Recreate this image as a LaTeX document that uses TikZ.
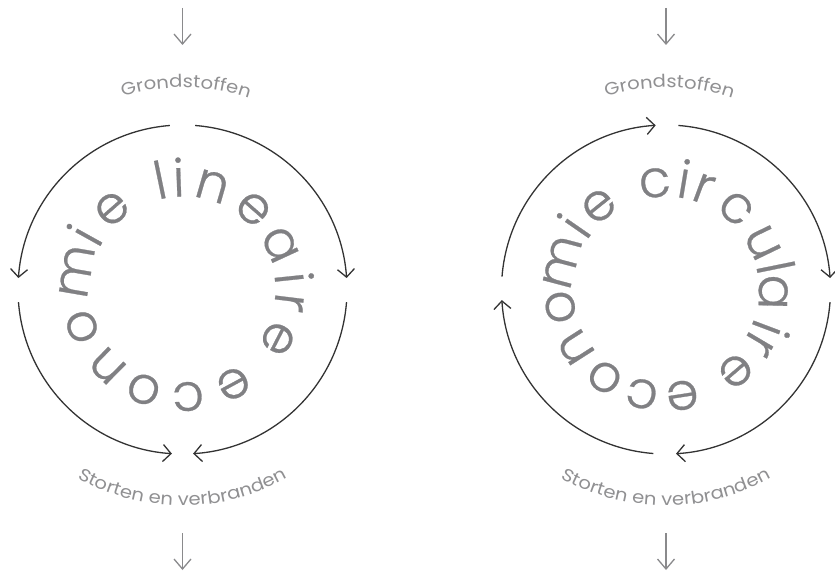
\documentclass[tikz,border=0pt]{standalone}
\usepackage{fontspec}
\usetikzlibrary{arrows.meta,calc,decorations.text}

\newfontfamily\ringfont{Poppins}[UprightFont=* Light, FakeBold=0.5]
\newfontfamily\tagfont{Poppins}[FakeStretch=1.12]

\definecolor{arcgray}{HTML}{333333}
\definecolor{ringgray}{HTML}{808083}
\definecolor{taggray}{HTML}{909092}
\definecolor{flowgray}{HTML}{8A8A8C}

\newcommand\tagstyle{\color{taggray}\tagfont\fontsize{17.5}{17.5}\selectfont}

\tikzset{
  cyclearc/.style={draw=arcgray, line width=1.3pt},
  cyclehead/.style={-{Straight Barb[length=8pt,width=17pt]}},
  flowarrow/.style={draw=flowgray, line width=1.3pt, -{Straight Barb[length=10pt,width=17pt]}},
  ringletter/.style={text=ringgray, font=\ringfont\fontsize{52}{52}\selectfont, inner sep=0pt, anchor=base},
  arctext/.style={decorate, decoration={text along path, text align=center, text={#1}}}
}

\begin{document}
\begin{tikzpicture}[x=1pt,y=1pt]
\useasboundingbox (0,0) rectangle (835,574);

% ---------- centres of the two cycles ----------
\coordinate (Lc) at (182.5,284.5);
\coordinate (Rc) at (666,284.5);

% ---------- linear economy ----------
% inflow and outflow
\coordinate (Lin1) at (182.5,566);
\coordinate (Lin2) at (182.5,529);
\draw[flowarrow] (Lin1) -- (Lin2);
\coordinate (Lout1) at (182.5,41);
\coordinate (Lout2) at (182.5,4);
\draw[flowarrow] (Lout1) -- (Lout2);

% four quarter arcs: raw materials split to both sides, then flow down to waste
\coordinate (La1) at ($(Lc)+(94.4:164.5pt)$);
\draw[cyclearc, cyclehead] (La1) arc[start angle=94.4, end angle=176, radius=164.5pt];
\coordinate (La2) at ($(Lc)+(85.6:164.5pt)$);
\draw[cyclearc, cyclehead] (La2) arc[start angle=85.6, end angle=4, radius=164.5pt];
\coordinate (La3) at ($(Lc)+(184.4:164.5pt)$);
\draw[cyclearc, cyclehead] (La3) arc[start angle=184.4, end angle=266.3, radius=164.5pt];
\coordinate (La4) at ($(Lc)+(355.6:164.5pt)$);
\draw[cyclearc, cyclehead] (La4) arc[start angle=355.6, end angle=273.7, radius=164.5pt];

% curved labels
\coordinate (Lg) at ($(Lc)+(140:202pt)$);
\path[arctext={|\tagstyle|Grondstoffen}] (Lg) arc[start angle=140, end angle=38, radius=202pt];
\coordinate (Ls) at ($(Lc)+(215:216pt)$);
\path[arctext={|\tagstyle|Storten en verbranden}] (Ls) arc[start angle=215, end angle=325, radius=216pt];

% ring lettering
\foreach \ch/\ang [count=\k] in {e/298.4, c/273, o/248.7, n/225.4, o/200.3, m/170.3, i/150.9, e/131.2,
    l/101.7, i/92, n/73.9, e/48.7, a/24.7, i/6, r/-7, e/-27.2}
  \node[ringletter, rotate=\ang-90] (Lt\k) at ($(Lc)+(\ang:93pt)$) {\ch};

% ---------- circular economy ----------
\coordinate (Rin1) at (666,566);
\coordinate (Rin2) at (666,529);
\draw[flowarrow] (Rin1) -- (Rin2);
\coordinate (Rout1) at (666,41);
\coordinate (Rout2) at (666,4);
\draw[flowarrow] (Rout1) -- (Rout2);

% four quarter arcs running clockwise
\coordinate (Ra1) at ($(Rc)+(175.5:164.5pt)$);
\draw[cyclearc, cyclehead] (Ra1) arc[start angle=175.5, end angle=93.6, radius=164.5pt];
\coordinate (Ra2) at ($(Rc)+(85.7:164.5pt)$);
\draw[cyclearc, cyclehead] (Ra2) arc[start angle=85.7, end angle=4, radius=164.5pt];
\coordinate (Ra3) at ($(Rc)+(355.6:164.5pt)$);
\draw[cyclearc, cyclehead] (Ra3) arc[start angle=355.6, end angle=273.5, radius=164.5pt];
\coordinate (Ra4) at ($(Rc)+(265.6:164.5pt)$);
\draw[cyclearc, cyclehead] (Ra4) arc[start angle=265.6, end angle=183.7, radius=164.5pt];

\coordinate (Rg) at ($(Rc)+(140:202pt)$);
\path[arctext={|\tagstyle|Grondstoffen}] (Rg) arc[start angle=140, end angle=38, radius=202pt];
\coordinate (Rs) at ($(Rc)+(215:216pt)$);
\path[arctext={|\tagstyle|Storten en verbranden}] (Rs) arc[start angle=215, end angle=325, radius=216pt];

\foreach \ch/\ang [count=\k] in {e/-81.2, c/-103, o/-124.9, n/-147.4, o/-170.6, m/165.2, i/145.3, e/128.8,
    c/96, i/80.6, r/69.6, c/49.2, u/25.8, l/11.5, a/-1.4, i/-20.7, r/-30.6, e/-49.4}
  \node[ringletter, rotate=\ang-90] (Rt\k) at ($(Rc)+(\ang:93pt)$) {\ch};

\end{tikzpicture}
\end{document}
